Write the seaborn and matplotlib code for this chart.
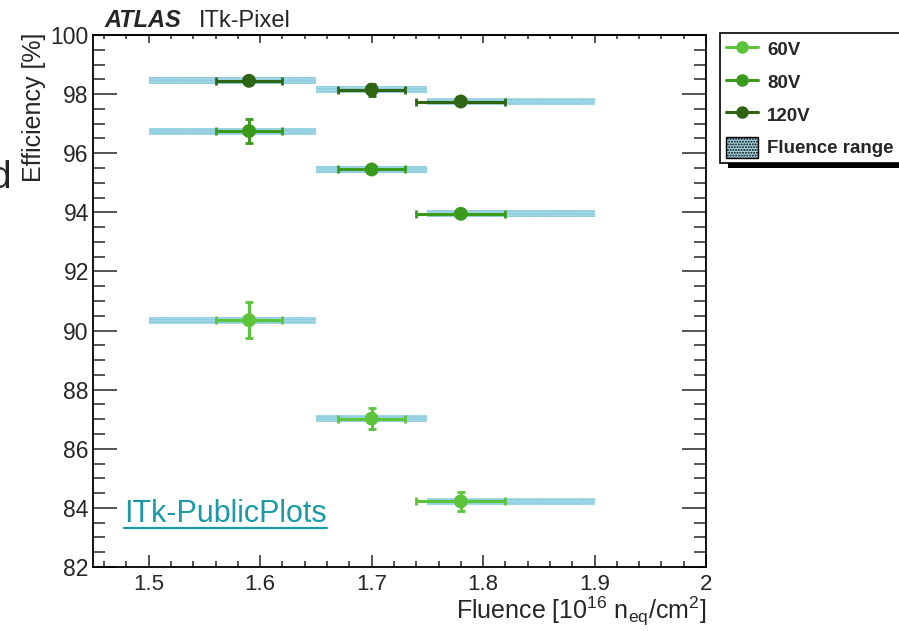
import matplotlib
matplotlib.use("Agg")
import matplotlib.pyplot as plt
import matplotlib.patches as mpatches
from matplotlib.lines import Line2D
from matplotlib.ticker import MultipleLocator
import numpy as np
import pandas as pd
import seaborn as sns

# ---------------- data ----------------
fluence = [1.59, 1.70, 1.78]
fluence_lo = [1.56, 1.67, 1.74]
fluence_hi = [1.62, 1.73, 1.82]
range_lo = [1.50, 1.65, 1.75]
range_hi = [1.65, 1.75, 1.90]

voltages = ["60V", "80V", "120V"]
eff_60 = [90.35, 87.02, 84.22]
err_60 = [0.60, 0.35, 0.33]
eff_80 = [96.75, 95.45, 93.95]
err_80 = [0.40, 0.12, 0.12]
eff_120 = [98.45, 98.15, 97.75]
err_120 = [0.10, 0.20, 0.10]

colors = {"60V": "#5cc43a", "80V": "#3a9a1c", "120V": "#2f6412"}
band_face = "#a8dbe8"
band_hatch = "#7cc3d8"
link_color = "#1b9aa6"

effs = {"60V": eff_60, "80V": eff_80, "120V": eff_120}
errs = {"60V": err_60, "80V": err_80, "120V": err_120}

rows = []
for v in voltages:
    for i, f in enumerate(fluence):
        rows.append({"fluence": f, "eff": effs[v][i], "err": errs[v][i],
                     "xlo": fluence_lo[i], "xhi": fluence_hi[i],
                     "rlo": range_lo[i], "rhi": range_hi[i], "V": v})
df = pd.DataFrame(rows)

# ---------------- style ----------------
sns.set_style("ticks")
plt.rcParams["font.family"] = ["Liberation Sans", "DejaVu Sans"]
plt.rcParams["mathtext.fontset"] = "custom"
plt.rcParams["mathtext.rm"] = "Liberation Sans"
plt.rcParams["mathtext.it"] = "Liberation Sans:italic"
plt.rcParams["mathtext.bf"] = "Liberation Sans:bold"

fig = plt.figure(figsize=(8.99, 6.31), dpi=100)
ax = fig.add_axes([93 / 899, 1 - 567 / 631, (706 - 93) / 899, (567 - 35) / 631])

# fluence range bands
band_h = 0.24
for _, r in df.iterrows():
    ax.fill_between([r["rlo"], r["rhi"]], r["eff"] - band_h / 2, r["eff"] + band_h / 2,
                    facecolor=band_face, edgecolor=band_hatch, hatch="......",
                    linewidth=0, zorder=1)

# error bars
for v in voltages:
    sub = df[df["V"] == v]
    xerr = np.vstack([sub["fluence"] - sub["xlo"], sub["xhi"] - sub["fluence"]])
    ax.errorbar(sub["fluence"], sub["eff"], xerr=xerr, yerr=sub["err"], fmt="none",
                ecolor=colors[v], elinewidth=2.2, capsize=2.8, capthick=2.0, zorder=2)

# markers
sns.scatterplot(data=df, x="fluence", y="eff", hue="V", palette=colors,
                hue_order=voltages, s=100, edgecolor="none", legend=False,
                ax=ax, zorder=3)

ax.set_xlim(1.45, 2.0)
ax.set_ylim(82, 100)
ax.xaxis.set_major_locator(MultipleLocator(0.1))
ax.xaxis.set_minor_locator(MultipleLocator(0.02))
ax.yaxis.set_major_locator(MultipleLocator(2))
ax.yaxis.set_minor_locator(MultipleLocator(0.5))
ax.set_xticks([1.5, 1.6, 1.7, 1.8, 1.9, 2.0])
ax.set_xticklabels(["1.5", "1.6", "1.7", "1.8", "1.9", "2"])

ax.tick_params(axis="x", which="major", direction="in", length=9, width=1.1,
               labelsize=16, pad=5, bottom=True, top=False)
ax.tick_params(axis="x", which="minor", direction="in", length=4.5, width=1.1,
               bottom=True, top=False)
ax.tick_params(axis="y", which="major", direction="in", length=17, width=1.1,
               labelsize=16.5, pad=3, left=True, right=True)
ax.tick_params(axis="y", which="minor", direction="in", length=8.5, width=1.1,
               left=True, right=True)
for s in ax.spines.values():
    s.set_linewidth(1.3)
    s.set_color("black")

# top ticks (shorter, ROOT style)
top = ax.secondary_xaxis("top")
top.xaxis.set_major_locator(MultipleLocator(0.1))
top.xaxis.set_minor_locator(MultipleLocator(0.02))
top.tick_params(which="major", direction="in", length=6, width=1.1, labeltop=False)
top.tick_params(which="minor", direction="in", length=3, width=1.1)
top.spines["top"].set_linewidth(1.3)

ax.set_xlabel(r"Fluence [10$^{16}$ n$_{\mathrm{eq}}$/cm$^{2}$]", fontsize=18, loc="right")
ax.xaxis.set_label_coords(1.0, -0.052)
ax.set_ylabel("Efficiency [%]", fontsize=18, loc="top")
ax.yaxis.set_label_coords(-0.077, 1.005)

# header
fig.text(104 / 899, 1 - 27 / 631, "ATLAS", fontsize=17, fontweight="bold",
         fontstyle="italic", va="baseline", ha="left")
fig.text(199 / 899, 1 - 27 / 631, "ITk-Pixel", fontsize=17, va="baseline", ha="left")

# stray partial text at left edge
fig.text(-11 / 899, 1 - 188 / 631, "d", fontsize=28, va="baseline", ha="left")

# link text
link = ax.text(124 / 899, 1 - 522 / 631, "ITk-PublicPlots", fontsize=22, color=link_color,
               transform=fig.transFigure, va="baseline", ha="left")

# legend
handles = [Line2D([], [], color=colors[v], marker="o", markersize=8, lw=2.2) for v in voltages]
handles.append(mpatches.Patch(facecolor=band_face, edgecolor="black", hatch="......",
                              linewidth=1.0))
labels = voltages + ["Fluence range"]
leg = fig.legend(handles, labels, loc="upper left",
                 bbox_to_anchor=(720 / 899, 1 - 33 / 631, 200 / 899, 0.0),
                 bbox_transform=fig.transFigure, mode="expand",
                 frameon=True, fancybox=False, edgecolor="black", framealpha=1,
                 prop={"weight": "bold", "size": 13.5}, handlelength=1.75, handleheight=1.35,
                 handletextpad=0.45, labelspacing=0.62, borderpad=0.3, borderaxespad=0)
leg.get_frame().set_linewidth(1.2)
leg.set_zorder(6)

fig.canvas.draw()
r = fig.canvas.get_renderer()
bb = leg.get_window_extent(r)
W, H = fig.bbox.width, fig.bbox.height
shadow = mpatches.Rectangle(((bb.x0 + 8) / W, (bb.y0 - 5) / H), (bb.width) / W, bb.height / H,
                            transform=fig.transFigure, facecolor="black", edgecolor="none",
                            zorder=5)
fig.add_artist(shadow)

tb = link.get_window_extent(r)
fig.add_artist(Line2D([tb.x0 / W, tb.x1 / W], [(tb.y0 + 1) / H, (tb.y0 + 1) / H],
                      transform=fig.transFigure, color=link_color, lw=1.6))

fig.savefig("out.png", dpi=100)
